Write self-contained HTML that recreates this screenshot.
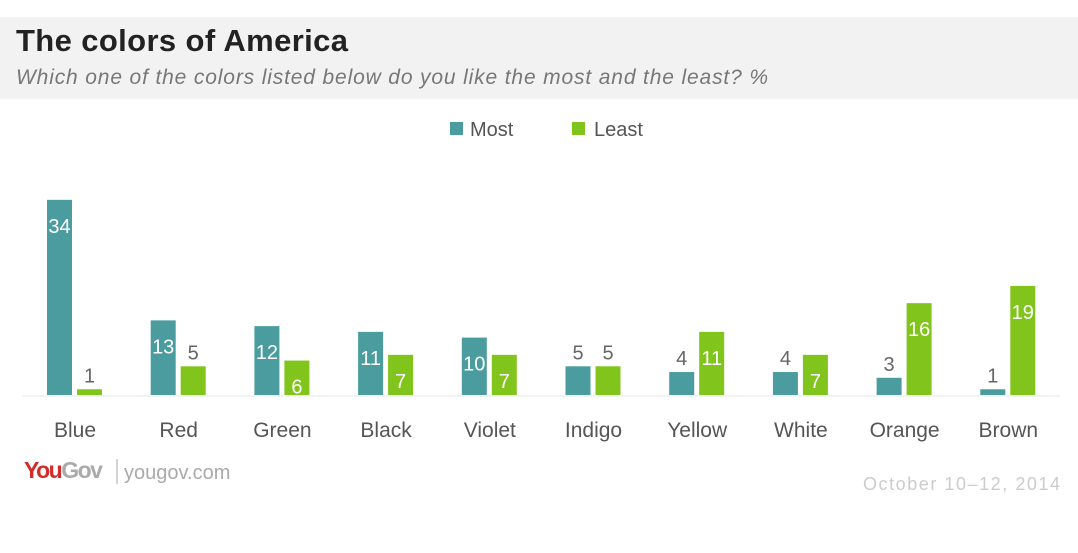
<!DOCTYPE html>
<html><head><meta charset="utf-8"><style>
body{margin:0;width:1078px;height:548px;background:#fff;overflow:hidden;font-family:"Liberation Sans",sans-serif}
</style></head><body>
<svg width="1078" height="548" xmlns="http://www.w3.org/2000/svg" font-family="Liberation Sans, sans-serif">
<rect x="0" y="17" width="1078" height="82" fill="#f2f2f2"/>
<text x="16" y="51" font-size="31" font-weight="bold" fill="#222" textLength="332">The colors of America</text>
<text x="16" y="84" font-size="21" font-style="italic" fill="#777" textLength="752">Which one of the colors listed below do you like the most and the least? %</text>
<rect x="450" y="122" width="13" height="13" fill="#4a9c9e"/>
<text x="470" y="136" font-size="20" fill="#555">Most</text>
<rect x="572" y="122" width="13" height="13" fill="#80c41c"/>
<text x="594" y="136" font-size="20" fill="#555">Least</text>
<line x1="22" y1="396" x2="1060" y2="396" stroke="#eee" stroke-width="1.5"/>
<g id="bars"></g>
<text x="24" y="478" font-size="23" font-weight="bold" fill="#d42a2a" letter-spacing="-1.5">You<tspan fill="#aaa">Gov</tspan></text>
<line x1="117" y1="459" x2="117" y2="484" stroke="#aaa"/>
<text x="124" y="479" font-size="20" fill="#aaa">yougov.com</text>
<text x="863" y="490" font-size="18" fill="#ccc" textLength="197">October 10–12, 2014</text>
</svg>
<script>
var d=[["Blue",34,1],["Red",13,5],["Green",12,6],["Black",11,7],["Violet",10,7],["Indigo",5,5],["Yellow",4,11],["White",4,7],["Orange",3,16],["Brown",1,19]];
var g=document.getElementById("bars"),s="",k=5.74,b=395;
d.forEach(function(r,i){var c=75+i*103.7;
[[r[1],c-28,"#4a9c9e"],[r[2],c+2,"#80c41c"]].forEach(function(v){var h=v[0]*k,t=b-h,x=v[1];
s+='<rect x="'+x+'" y="'+t+'" width="25" height="'+h+'" fill="'+v[2]+'"/>';
if(v[0]>=6)s+='<text x="'+(x+12.5)+'" y="'+(t+33)+'" font-size="20" fill="#fff" text-anchor="middle">'+v[0]+'</text>';
else s+='<text x="'+(x+12.5)+'" y="'+(t-7)+'" font-size="20" fill="#666" text-anchor="middle">'+v[0]+'</text>';});
s+='<text x="'+c+'" y="437" font-size="21" fill="#555" text-anchor="middle">'+r[0]+'</text>';});
g.innerHTML=s;
</script>
</body></html>
